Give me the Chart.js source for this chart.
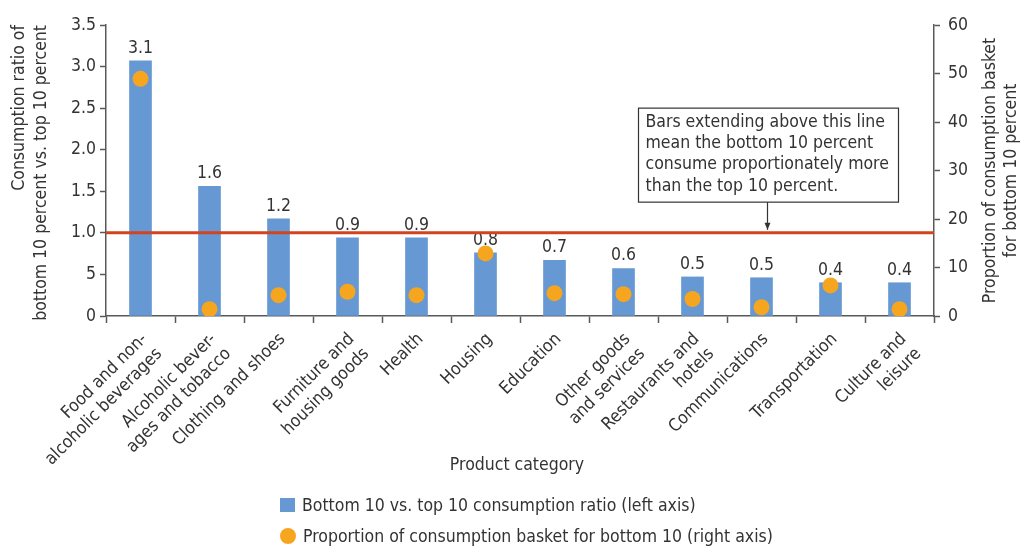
<!DOCTYPE html>
<html>
<head>
<meta charset="utf-8">
<script src="https://cdn.jsdelivr.net/npm/chart.js@4.4.1/dist/chart.umd.min.js"></script>
<style>
    html, body { margin: 0; padding: 0; background: #fff; }
    #wrap { position: relative; width: 1020px; height: 546px; }
    .legend-row {
        position: absolute;
        left: 280px;
        height: 20px;
        display: flex;
        align-items: center;
        font: 17.5px 'Liberation Sans Narrow', 'DejaVu Sans Condensed', 'Roboto', sans-serif;
        color: #333;
        white-space: nowrap;
    }
    .swatch-bar { width: 15px; height: 14px; background: #6699d3; margin-right: 7px; }
    .swatch-dot { width: 16px; height: 16px; border-radius: 50%; background: #f6a51f; margin-right: 7px; }
</style>
</head>
<body>
<div id="wrap">
    <canvas id="chart" width="1020" height="546"></canvas>
    <div class="legend-row" style="top:495px"><span class="swatch-bar"></span>Bottom 10 vs. top 10 consumption ratio (left axis)</div>
    <div class="legend-row" style="top:526px"><span class="swatch-dot"></span>Proportion of consumption basket for bottom 10 (right axis)</div>
</div>
<script>
const FONT = "'Liberation Sans Narrow', 'DejaVu Sans Condensed', 'Roboto', sans-serif";
const FONT_SIZE = 17.5;
const TEXT = '#333333';
const AXIS = '#595959';

const categories = [
    ['Food and non-', 'alcoholic beverages'],
    ['Alcoholic bever-', 'ages and tobacco'],
    'Clothing and shoes',
    ['Furniture and', 'housing goods'],
    'Health',
    'Housing',
    'Education',
    ['Other goods', 'and services'],
    ['Restaurants and', 'hotels'],
    'Communications',
    'Transportation',
    ['Culture and', 'leisure']
];
// bottom 10 vs top 10 consumption ratio (left axis)
const ratio = [3.07, 1.56, 1.17, 0.94, 0.94, 0.76, 0.67, 0.57, 0.47, 0.46, 0.40, 0.40];
// share of consumption basket for bottom 10, percent (right axis)
const basketShare = [48.9, 1.4, 4.3, 5.0, 4.3, 12.9, 4.7, 4.5, 3.5, 1.8, 6.3, 1.4];

const leftTickLabels = ['0', '5', '1.0', '1.5', '2.0', '2.5', '3.0', '3.5'];
const parity = 1.0;
const noteLines = [
    'Bars extending above this line',
    'mean the bottom 10 percent',
    'consume proportionately more',
    'than the top 10 percent.'
];
const leftTitle = ['Consumption ratio of', 'bottom 10 percent vs. top 10 percent'];
const rightTitle = ['Proportion of consumption basket', 'for bottom 10 percent'];
const xTitle = 'Product category';

const extras = {
    id: 'extras',
    afterDatasetDraw(chart, args) {
        if (args.index !== 0) return;
        const ctx = chart.ctx;
        const area = chart.chartArea;
        // value labels over the bars
        ctx.save();
        ctx.font = FONT_SIZE + 'px ' + FONT;
        ctx.fillStyle = TEXT;
        ctx.textAlign = 'center';
        ctx.textBaseline = 'bottom';
        args.meta.data.forEach((bar, i) => {
            ctx.fillText(ratio[i].toFixed(1), bar.x, bar.y - 4);
        });
        // parity line at 1.0
        const py = chart.scales.y.getPixelForValue(parity);
        ctx.strokeStyle = '#d2431f';
        ctx.lineWidth = 3;
        ctx.beginPath();
        ctx.moveTo(area.left, py);
        ctx.lineTo(area.right, py);
        ctx.stroke();
        ctx.restore();
    },
    afterDraw(chart) {
        const ctx = chart.ctx;
        const area = chart.chartArea;
        const x = chart.scales.x;
        const y = chart.scales.y;
        ctx.save();
        ctx.font = FONT_SIZE + 'px ' + FONT;
        ctx.fillStyle = TEXT;

        // left axis title, lines end at top of plot
        ctx.textBaseline = 'middle';
        ctx.textAlign = 'right';
        [19, 41].forEach((lx, i) => {
            ctx.save();
            ctx.translate(lx, area.top);
            ctx.rotate(-Math.PI / 2);
            ctx.fillText(leftTitle[i], 0, 0);
            ctx.restore();
        });

        // right axis title, centred
        ctx.textAlign = 'center';
        const midY = (area.top + area.bottom) / 2;
        [area.right + 56, area.right + 77].forEach((lx, i) => {
            ctx.save();
            ctx.translate(lx, midY);
            ctx.rotate(-Math.PI / 2);
            ctx.fillText(rightTitle[i], 0, 0);
            ctx.restore();
        });

        // x axis title
        ctx.fillText(xTitle, (area.left + area.right) / 2 - 3, area.bottom + 149);

        // note box with arrow down to the parity line
        const ax = x.getPixelForValue(9) + 6;
        const boxL = ax - 129, boxW = 260;
        const boxT = y.getPixelForValue(2.5), boxH = 94;
        ctx.fillStyle = '#fff';
        ctx.fillRect(boxL, boxT, boxW, boxH);
        ctx.strokeStyle = '#333';
        ctx.lineWidth = 1.2;
        ctx.strokeRect(boxL, boxT, boxW, boxH);
        ctx.fillStyle = TEXT;
        ctx.textAlign = 'left';
        noteLines.forEach((t, i) => {
            ctx.fillText(t, boxL + 7, boxT + 14 + i * 21.3);
        });
        const tipY = y.getPixelForValue(parity) - 3;
        ctx.beginPath();
        ctx.moveTo(ax, boxT + boxH);
        ctx.lineTo(ax, tipY);
        ctx.stroke();
        ctx.beginPath();
        ctx.moveTo(ax - 3, tipY - 7);
        ctx.lineTo(ax, tipY);
        ctx.lineTo(ax + 3, tipY - 7);
        ctx.closePath();
        ctx.fillStyle = '#333';
        ctx.fill();
        ctx.restore();
    }
};

const axisGrid = {
    drawOnChartArea: false,
    drawTicks: true,
    tickLength: 6,
    tickColor: AXIS,
    tickWidth: 1.5,
    color: AXIS
};

new Chart(document.getElementById('chart').getContext('2d'), {
    type: 'bar',
    data: {
        labels: categories,
        datasets: [{
            label: 'Bottom 10 vs. top 10 consumption ratio (left axis)',
            data: ratio,
            backgroundColor: '#6699d3',
            barThickness: 22,
            yAxisID: 'y',
            order: 2
        }, {
            type: 'line',
            label: 'Proportion of consumption basket for bottom 10 (right axis)',
            data: basketShare,
            showLine: false,
            pointRadius: 8,
            pointHoverRadius: 8,
            pointBackgroundColor: '#f6a51f',
            pointBorderWidth: 0,
            yAxisID: 'y1',
            order: 1
        }]
    },
    options: {
        responsive: false,
        animation: false,
        events: [],
        layout: { padding: { top: 25, bottom: 70, left: 0, right: 0 } },
        plugins: {
            legend: { display: false },
            tooltip: { enabled: false }
        },
        scales: {
            x: {
                offset: true,
                grid: Object.assign({}, axisGrid, { offset: true, tickLength: 7 }),
                border: { display: true, color: AXIS, width: 1.5 },
                ticks: {
                    autoSkip: false,
                    minRotation: 45,
                    maxRotation: 45,
                    labelOffset: 4,
                    padding: 6,
                    color: TEXT,
                    font: { family: FONT, size: FONT_SIZE }
                },
                afterFit(scale) { scale.height = 160; }
            },
            y: {
                position: 'left',
                min: 0,
                max: 3.5,
                grid: axisGrid,
                border: { display: true, color: AXIS, width: 1.5 },
                ticks: {
                    stepSize: 0.5,
                    padding: 4,
                    color: TEXT,
                    font: { family: FONT, size: FONT_SIZE },
                    callback: (v, i) => leftTickLabels[i]
                },
                afterFit(scale) { scale.width = 106; }
            },
            y1: {
                position: 'right',
                min: 0,
                max: 60,
                grid: axisGrid,
                border: { display: true, color: AXIS, width: 1.5 },
                ticks: {
                    stepSize: 10,
                    padding: 8,
                    color: TEXT,
                    font: { family: FONT, size: FONT_SIZE }
                },
                afterFit(scale) { scale.width = 86; }
            }
        }
    },
    plugins: [extras]
});
</script>
</body>
</html>
